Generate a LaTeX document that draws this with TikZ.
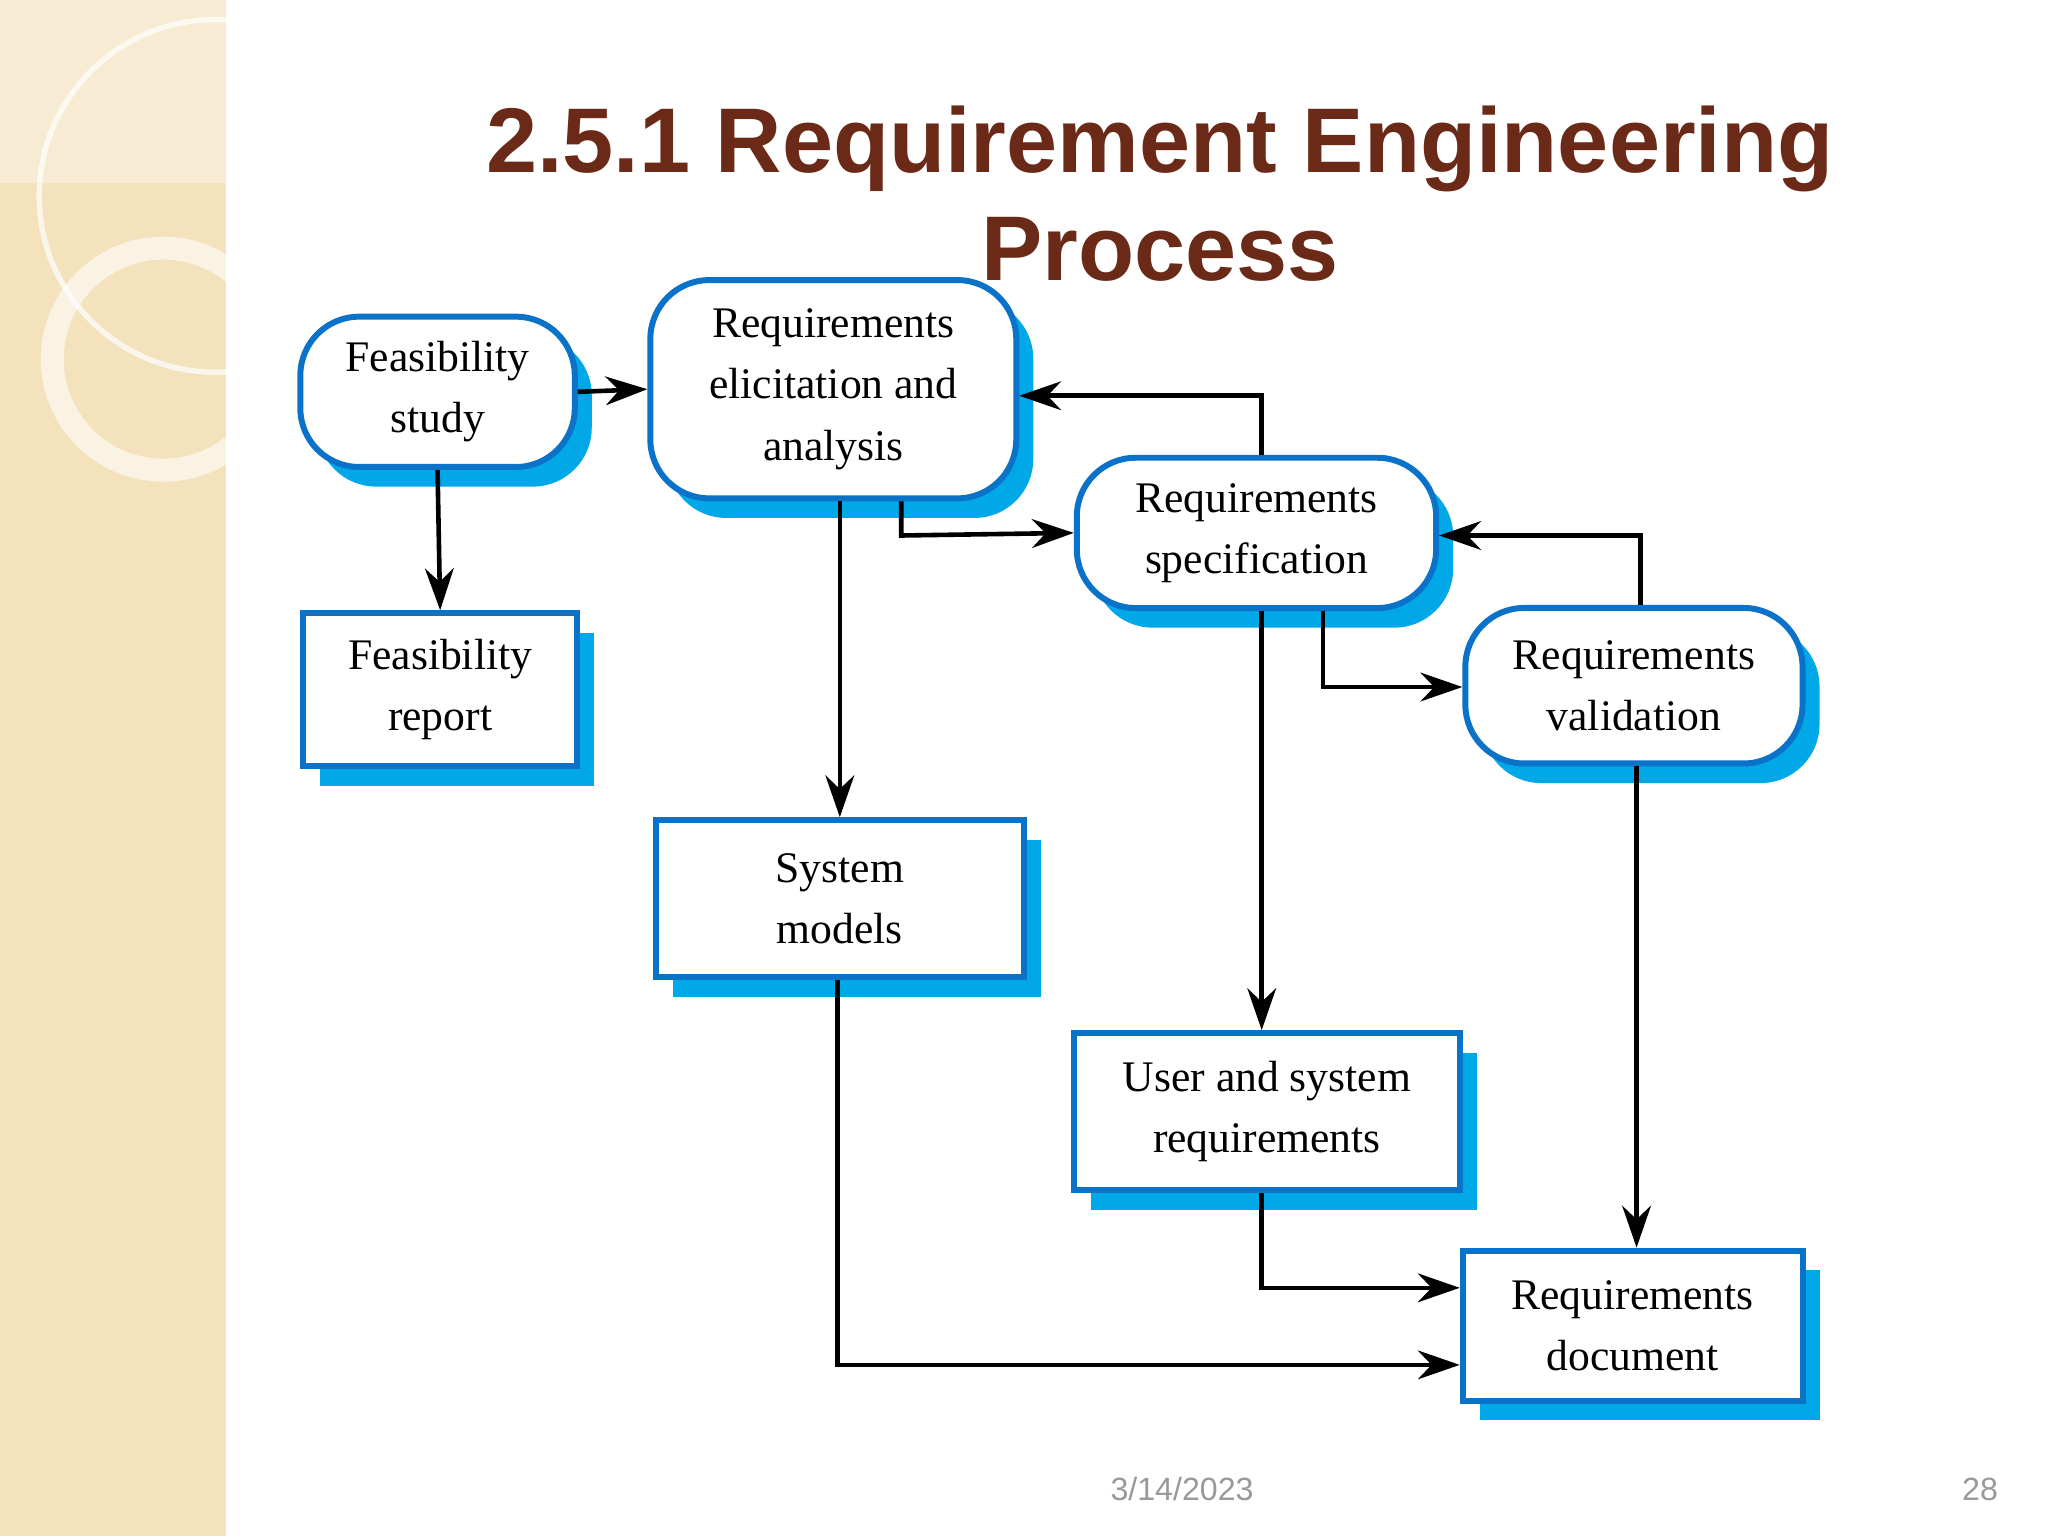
\documentclass[tikz,border=0pt]{standalone}
\usepackage{fontspec}
\setmainfont{Liberation Serif}
\newfontfamily\titlefont{Liberation Sans}
\usetikzlibrary{shadows,arrows.meta}
\definecolor{bord}{HTML}{0A72C8}
\definecolor{shad}{HTML}{00A8E8}
\definecolor{beige}{HTML}{F3E2BC}
\definecolor{ttl}{HTML}{6A2A17}
\begin{document}
\begin{tikzpicture}[x=0.01cm,y=-0.01cm,
  box/.style={draw=bord,line width=1.3pt,fill=white,align=center,font=\fontsize{9.5}{13.3}\selectfont,
    drop shadow={shadow xshift=0.13cm,shadow yshift=-0.15cm,fill=shad,opacity=1}},
  rbox/.style={box,rounded corners=0.45cm},
  arr/.style={line width=1pt,-{Stealth[length=0.32cm,width=0.22cm]}}]
\useasboundingbox (0,0) rectangle (1568,1176);
\fill[white] (0,0) rectangle (1568,1176);
\begin{scope}
\clip (0,0) rectangle (173,1176);
\fill[beige] (0,0) rectangle (173,1176);
\fill[white,opacity=0.35] (0,0) rectangle (173,140);
\draw[white,opacity=0.7,line width=1.2pt] (165,150) circle (135);
\draw[white,opacity=0.6,line width=5pt] (125,275) circle (85);
\end{scope}
\node[font=\titlefont\bfseries\fontsize{20}{23.5}\selectfont,text=ttl,align=center] (title) at (888,148) {2.5.1 Requirement Engineering\\Process};
\node[rbox,minimum width=2.1cm,minimum height=1.15cm] (fs) at (335,300) {Feasibility\\study};
\node[rbox,minimum width=2.8cm,minimum height=1.67cm] (el) at (638,298) {Requirements\\elicitation and\\analysis};
\node[rbox,minimum width=2.75cm,minimum height=1.15cm] (sp) at (962,408) {Requirements\\specification};
\node[rbox,minimum width=2.58cm,minimum height=1.19cm] (va) at (1251,525) {Requirements\\validation};
\node[box,minimum width=2.1cm,minimum height=1.17cm] (fr) at (337,528) {Feasibility\\report};
\node[box,minimum width=2.82cm,minimum height=1.2cm] (sm) at (643,688) {System\\models};
\node[box,minimum width=2.96cm,minimum height=1.2cm] (us) at (970,851) {User and system\\requirements};
\node[box,minimum width=2.6cm,minimum height=1.15cm] (rd) at (1250,1015) {Requirements\\document};
\draw[arr] (fs.east) -- (el.west);
\draw[arr] (fs.south) -- (fr.north);
\draw[arr] (el.south -| sm.north) -- (sm.north);
\draw[arr] (690,0 |- el.south) -- (690,410) -- (sp.west);
\draw[arr] (966,0 |- sp.north) -- (966,303) -- (el.east |- 0,303);
\draw[arr] (966,0 |- sp.south) -- (966,0 |- us.north);
\draw[arr] (1013,0 |- sp.south) -- (1013,526) -- (va.west |- 0,526);
\draw[arr] (1256,0 |- va.north) -- (1256,410) -- (sp.east |- 0,410);
\draw[arr] (1253,0 |- va.south) -- (1253,0 |- rd.north);
\draw[arr] (966,0 |- us.south) -- (966,986) -- (rd.west |- 0,986);
\draw[arr] (641,0 |- sm.south) -- (641,1045) -- (rd.west |- 0,1045);
\node[font=\titlefont\fontsize{7}{8}\selectfont,text=gray!80] (date) at (905,1140) {3/14/2023};
\node[font=\titlefont\fontsize{7}{8}\selectfont,text=gray!80] (pg) at (1516,1140) {28};
\end{tikzpicture}
\end{document}
